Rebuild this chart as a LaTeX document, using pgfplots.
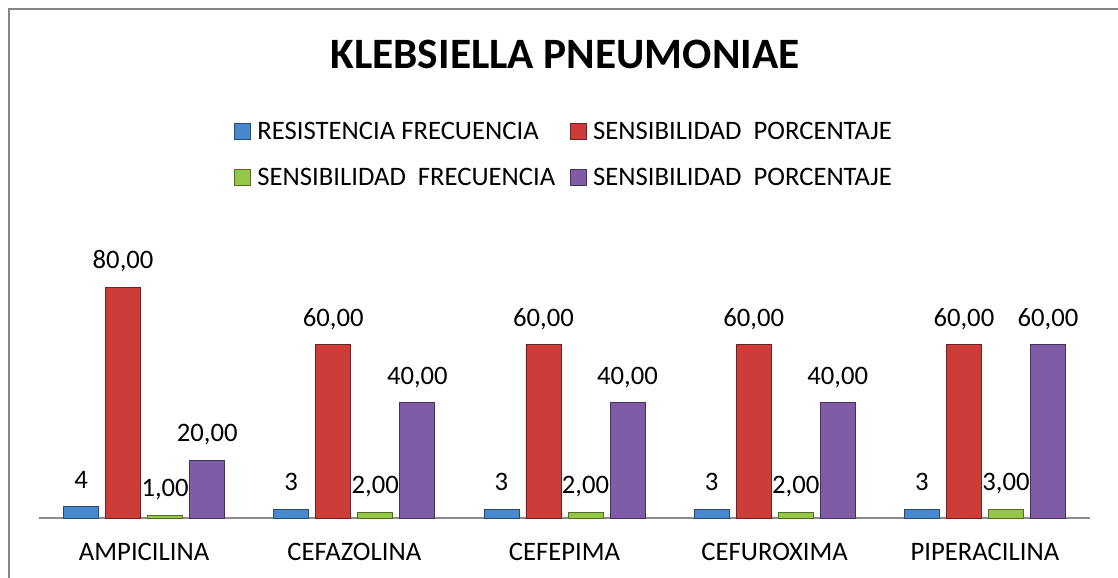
\documentclass[border=0pt]{standalone}
\usepackage{pgfplots}
\pgfplotsset{compat=1.18}
\usepackage{pgfplotstable}
\usepackage{fontspec}
\setmainfont{Carlito}
\definecolor{cblue}{RGB}{72,136,206}
\definecolor{cred}{RGB}{206,60,58}
\definecolor{cgreen}{RGB}{150,198,72}
\definecolor{cpurple}{RGB}{126,92,166}
\definecolor{frame}{RGB}{134,134,134}
\pgfplotstableread{
x r rl s sl f fl p pl
0 4 4 80 80,00 1 1,00 20 20,00
1 3 3 60 60,00 2 2,00 40 40,00
2 3 3 60 60,00 2 2,00 40 40,00
3 3 3 60 60,00 2 2,00 40 40,00
4 3 3 60 60,00 3 3,00 60 60,00
}\datatable
\newcommand{\lblfont}{\fontsize{20}{24}\selectfont}
\begin{document}
\begin{tikzpicture}
\path[use as bounding box] (-29.25pt,-45pt) rectangle (809.25pt,388.5pt);
\draw[frame, line width=1.5pt] (-22.5pt,-45pt) -- (-22.5pt,381.75pt) -- (809.25pt,381.75pt);
\node[font=\fontsize{32.5}{38}\selectfont\bfseries, anchor=base, inner sep=0pt] at (394.5pt,336.75pt) {KLEBSIELLA PNEUMONIAE};
\begin{axis}[
  at={(0pt,0pt)}, anchor=south west,
  scale only axis, width=788.25pt, height=173.25pt,
  xmin=-0.5, xmax=4.5, ymin=0, ymax=80,
  clip=false,
  axis x line=bottom, axis y line=none,
  axis line style={-, draw=black!45, line width=1pt},
  xtick={0,1,2,3,4},
  xticklabels={AMPICILINA,CEFAZOLINA,CEFEPIMA,CEFUROXIMA,PIPERACILINA},
  major tick length=0pt,
  xticklabel style={font=\lblfont, anchor=base, yshift=-32.25pt},
  ybar, bar width=0.1665,
  nodes near coords, point meta=explicit symbolic,
  every node near coord/.append style={font=\lblfont, text depth=0pt, inner sep=0pt, yshift=13.5pt, black},
  legend image code/.code={\path[#1] (0pt,-5.5pt) rectangle (12pt,6.5pt); \path[draw=none,fill=none] (15pt,0pt);},
  legend style={at={(0.5,1.5714)}, anchor=center, draw=none, fill=none,
    font=\lblfont, row sep=16pt,
    /tikz/every even column/.append style={column sep=9pt}},
  legend columns=2,
  legend cell align=left,
]
\addplot[bar shift=-0.3, draw=cblue!55!black, line width=0.6pt, fill=cblue]
  table[x=x, y=r, meta=rl] {\datatable};
\addlegendentry{RESISTENCIA FRECUENCIA}
\addplot[bar shift=-0.1, draw=cred!55!black, line width=0.6pt, fill=cred]
  table[x=x, y=s, meta=sl] {\datatable};
\addlegendentry{SENSIBILIDAD\ \ PORCENTAJE}
\addplot[bar shift=0.1, draw=cgreen!55!black, line width=0.6pt, fill=cgreen]
  table[x=x, y=f, meta=fl] {\datatable};
\addlegendentry{SENSIBILIDAD\ \ FRECUENCIA}
\addplot[bar shift=0.3, draw=cpurple!55!black, line width=0.6pt, fill=cpurple]
  table[x=x, y=p, meta=pl] {\datatable};
\addlegendentry{SENSIBILIDAD\ \ PORCENTAJE}
\end{axis}
\end{tikzpicture}
\end{document}
